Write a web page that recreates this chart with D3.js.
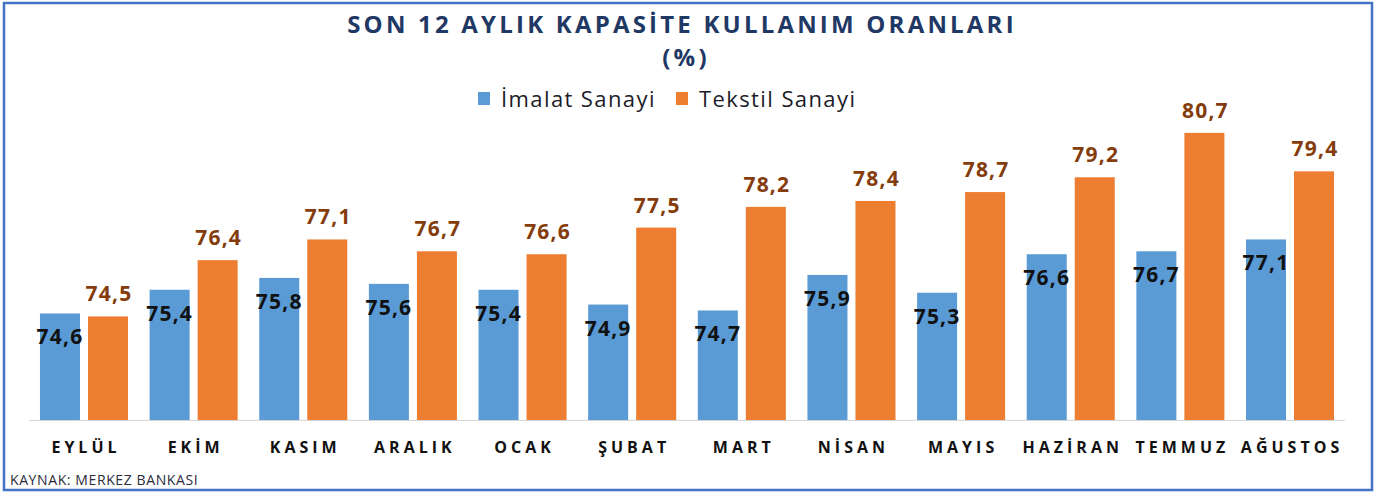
<!DOCTYPE html>
<html>
<head>
<meta charset="utf-8">
<script src="https://cdn.jsdelivr.net/npm/d3@7"></script>
<style>
  body { margin: 0; background: #fff; }
  svg { font-family: "Open Sans", sans-serif; }
</style>
</head>
<body>
<svg width="1376" height="494"></svg>
<script>
const months = ["EYLÜL", "EKİM", "KASIM", "ARALIK", "OCAK", "ŞUBAT", "MART", "NİSAN", "MAYIS", "HAZİRAN", "TEMMUZ", "AĞUSTOS"];
const imalat = [74.6, 75.4, 75.8, 75.6, 75.4, 74.9, 74.7, 75.9, 75.3, 76.6, 76.7, 77.1];
const tekstil = [74.5, 76.4, 77.1, 76.7, 76.6, 77.5, 78.2, 78.4, 78.7, 79.2, 80.7, 79.4];
const seriesNames = ["İmalat Sanayi", "Tekstil Sanayi"];
const colors = ["#5B9BD5", "#ED7D31"];

const fmt = (v) => d3.format(".1f")(v).replace(".", ",");
const svg = d3.select("svg");

// frame
svg.append("rect")
  .attr("x", 4).attr("y", 3).attr("width", 1368).attr("height", 487)
  .attr("fill", "none").attr("stroke", "#4472C4").attr("stroke-width", 2.5);

const x = d3.scaleBand().domain(months).range([29, 1345]).paddingInner(0.197).paddingOuter(0.1);
const xs = d3.scaleBand().domain([0, 1]).range([0, x.bandwidth()]).paddingInner(0.1667);
const y = d3.scaleLinear().domain([71, 81]).range([420, 124]);

// title
svg.append("text").attr("x", 682).attr("y", 33).attr("text-anchor", "middle")
  .attr("fill", "#1F3864").attr("font-weight", "bold").attr("font-size", 24)
  .attr("letter-spacing", 3.2).text("SON 12 AYLIK KAPASİTE KULLANIM ORANLARI");
svg.append("text").attr("x", 686).attr("y", 66).attr("text-anchor", "middle")
  .attr("fill", "#1F3864").attr("font-weight", "bold").attr("font-size", 24)
  .attr("letter-spacing", 3.2).text("(%)");

// legend
const legend = svg.append("g");
const legX = [478, 676];
seriesNames.forEach((name, i) => {
  legend.append("rect").attr("x", legX[i]).attr("y", 92).attr("width", 12).attr("height", 13)
    .attr("fill", colors[i]);
  legend.append("text").attr("x", legX[i] + 23).attr("y", 107)
    .attr("font-size", 22).attr("letter-spacing", 1.4).attr("fill", "#1c1c28").text(name);
});

// baseline
svg.append("line").attr("x1", 29).attr("x2", 1345).attr("y1", 420.5).attr("y2", 420.5)
  .attr("stroke", "#d9d9d9").attr("stroke-width", 1);

const groups = svg.append("g").selectAll("g").data(months).join("g")
  .attr("transform", (d) => `translate(${x(d)},0)`);

groups.append("rect")
  .attr("x", xs(0)).attr("width", xs.bandwidth())
  .attr("y", (d, i) => y(imalat[i])).attr("height", (d, i) => y(71) - y(imalat[i]))
  .attr("fill", colors[0]);
groups.append("rect")
  .attr("x", xs(1)).attr("width", xs.bandwidth())
  .attr("y", (d, i) => y(tekstil[i])).attr("height", (d, i) => y(71) - y(tekstil[i]))
  .attr("fill", colors[1]);

groups.append("text")
  .attr("x", xs(0) + xs.bandwidth() / 2).attr("y", (d, i) => y(imalat[i]) + 31)
  .attr("text-anchor", "middle").attr("font-weight", "bold").attr("font-size", 21)
  .attr("letter-spacing", 1.2).attr("fill", "#111").text((d, i) => fmt(imalat[i]));
groups.append("text")
  .attr("x", xs(1) + xs.bandwidth() / 2 + 1).attr("y", (d, i) => y(tekstil[i]) - 15)
  .attr("text-anchor", "middle").attr("font-weight", "bold").attr("font-size", 21)
  .attr("letter-spacing", 1.2).attr("fill", "#843C0C").text((d, i) => fmt(tekstil[i]));

// x axis labels
groups.append("text")
  .attr("x", x.bandwidth() / 2 + 2).attr("y", 453)
  .attr("text-anchor", "middle").attr("font-weight", "bold").attr("font-size", 16)
  .attr("letter-spacing", 4).attr("fill", "#111").text((d) => d);

// source
svg.append("text").attr("x", 10).attr("y", 485).attr("font-size", 14)
  .attr("letter-spacing", 0.6).attr("fill", "#2b2b3a").text("KAYNAK: MERKEZ BANKASI");
</script>
</body>
</html>
